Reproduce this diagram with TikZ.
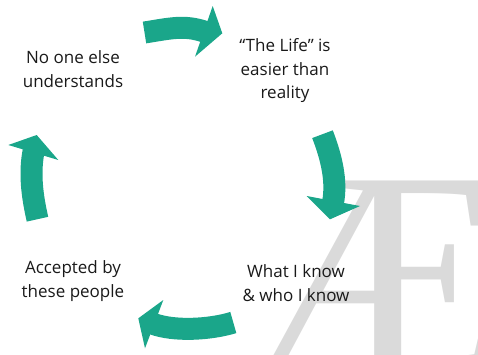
\documentclass[tikz,border=0pt]{standalone}
\usepackage{fontspec}
\setmainfont{Open Sans}
\newfontfamily\markfont{Liberation Serif}
\definecolor{cycleteal}{HTML}{1AA68A}
\definecolor{markgray}{HTML}{DADADA}
\tikzset{
  cyclebody/.style={draw=cycleteal, line width=22pt},
  cyclehead/.style={fill=cycleteal},
  cyclelabel/.style={align=center, font=\fontsize{17}{23.5}\selectfont, text=black!90}
}
\begin{document}
\begin{tikzpicture}[x=1pt, y=-1pt]
  \useasboundingbox (0,0) rectangle (478,354);
  \begin{scope}
    \clip (0,0) rectangle (478,354);
    \node[markgray, anchor=base west, inner sep=0pt, font=\markfont\fontsize{288}{288}\selectfont] (mark) at (250,369) {Æ};
  \end{scope}

  \node[cyclelabel] (alone) at (73,69) {No one else\\understands};
  \node[cyclelabel] (life) at (285,71) {“The Life” is\\easier than\\reality};
  \node[cyclelabel] (know) at (296,283) {What I know\\\& who I know};
  \node[cyclelabel] (accepted) at (73,281) {Accepted by\\these people};

  \coordinate (topTail) at (144.5,32.5);
  \coordinate (topBase) at (205,31.8);
  \coordinate (rightTail) at (322.5,134.2);
  \coordinate (rightBase) at (333,202.5);
  \coordinate (bottomTail) at (233.3,322.5);
  \coordinate (bottomBase) at (152.8,323.7);
  \coordinate (leftTail) at (37.5,219.2);
  \coordinate (leftBase) at (33.6,151);

  \draw[cyclebody] (topTail) .. controls +(24.5,-3.8) and +(-20.8,-7.3) .. (topBase);
  \fill[cyclehead] (212.7,6) -- (222.3,33.3) -- (195,56.7) -- cycle;
  \draw[cyclebody] (rightTail) .. controls +(8.9,23.1) and +(4.1,-21.6) .. (rightBase);
  \fill[cyclehead] (306.7,196) -- (330,219.3) -- (360,206) -- cycle;
  \draw[cyclebody] (bottomTail) .. controls +(-23.9,7.4) and +(20.6,7.8) .. (bottomBase);
  \fill[cyclehead] (163.3,300) -- (138.3,318.3) -- (145,348.3) -- cycle;
  \draw[cyclebody] (leftTail) .. controls +(-5.6,-24.3) and +(-4.2,21.6) .. (leftBase);
  \fill[cyclehead] (8.3,145) -- (36.7,135) -- (58.3,160) -- cycle;
\end{tikzpicture}
\end{document}
